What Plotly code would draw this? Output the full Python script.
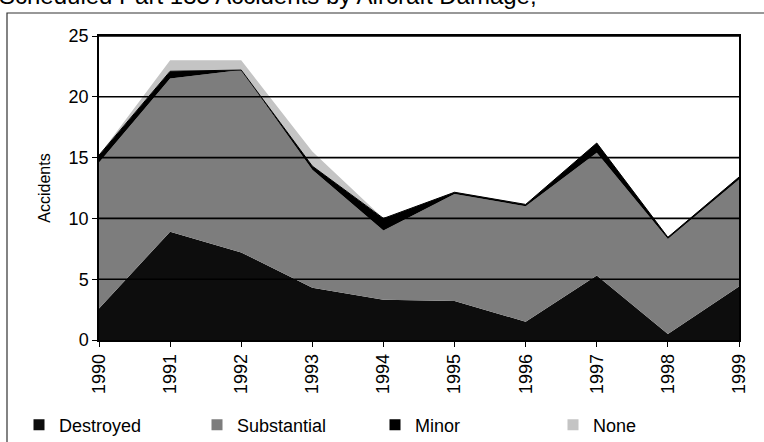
import plotly.graph_objects as go

years = [1990, 1991, 1992, 1993, 1994, 1995, 1996, 1997, 1998, 1999]
destroyed = [2.6, 8.9, 7.2, 4.3, 3.3, 3.2, 1.5, 5.3, 0.5, 4.4]
substantial = [12.0, 12.6, 15.0, 9.7, 5.7, 8.8, 9.5, 10.1, 7.8, 8.8]
minor = [0.6, 0.6, 0.0, 0.3, 1.0, 0.15, 0.15, 0.8, 0.15, 0.2]
none = [0.0, 0.9, 0.8, 1.2, 0.0, 0.0, 0.0, 0.0, 0.0, 0.0]
y_ticks = [0, 5, 10, 15, 20, 25]

series = [
    ("Destroyed", destroyed, "#0d0d0d"),
    ("Substantial", substantial, "#7d7d7d"),
    ("Minor", minor, "#000000"),
    ("None", none, "#c4c4c4"),
]

W, H = 764, 442
ML, MR, MT, MB = 99, 25, 36, 102
pw, ph = W - ML - MR, H - MT - MB

def px_x(p):
    return (p - ML) / pw

def px_y(p):
    return (H - MB - p) / ph

fig = go.Figure()
for name, vals, col in series:
    fig.add_trace(go.Scatter(
        x=years, y=vals, name=name, stackgroup="one", mode="lines",
        line=dict(width=1 if name == "Minor" else 0, color="#000000"),
        fillcolor=col, showlegend=False, hoverinfo="skip"))
for name, vals, col in series:
    fig.add_trace(go.Scatter(
        x=[None], y=[None], name=name, mode="markers",
        marker=dict(symbol="square", size=11, color=col,
                    line=dict(width=0)),
        showlegend=True))

shapes = []
for t in y_ticks[1:]:
    shapes.append(dict(type="line", xref="paper", yref="y", x0=0, x1=1,
                       y0=t, y1=t, layer="above",
                       line=dict(color="#000000", width=1.6)))
# outer chart frame
shapes.append(dict(type="rect", xref="paper", yref="paper",
                   x0=px_x(7), x1=px_x(800), y0=px_y(13), y1=px_y(480),
                   layer="below", line=dict(color="#333333", width=1.2)))
fig.update_layout(shapes=shapes)

fig.add_annotation(
    text="Scheduled Part 135 Accidents by Aircraft Damage,",
    xref="paper", yref="paper", x=px_x(-3), y=px_y(11),
    xanchor="left", yanchor="bottom", showarrow=False,
    font=dict(family="Arial, Liberation Sans, sans-serif", size=24, color="#000"))

font = dict(family="Arial, Liberation Sans, sans-serif", color="#000000")

fig.update_layout(
    width=W, height=H,
    margin=dict(l=ML, r=MR, t=MT, b=MB, autoexpand=False),
    paper_bgcolor="#ffffff", plot_bgcolor="#ffffff",
    font=font,
    xaxis=dict(range=[1990, 1999], tickvals=years, ticktext=[str(y) for y in years],
               tickangle=-90, ticks="outside", ticklen=5, tickwidth=1.2,
               tickcolor="#000", showgrid=False, zeroline=False,
               showline=True, linecolor="#000", linewidth=1.5, mirror=True,
               tickfont=dict(size=18), automargin=False),
    yaxis=dict(range=[0, 25], tickvals=y_ticks, ticks="outside", ticklen=5,
               tickwidth=1.2, tickcolor="#000", showgrid=False, zeroline=False,
               showline=True, linecolor="#000", linewidth=1.5, mirror=True,
               tickfont=dict(size=18), automargin=False,
               title=dict(text="Accidents", font=dict(size=16), standoff=14)),
    legend=dict(orientation="h", x=px_x(19), y=px_y(425), xanchor="left",
                yanchor="middle", font=dict(size=18), itemwidth=30,
                entrywidth=133, bgcolor="rgba(0,0,0,0)", traceorder="normal"),
    showlegend=True,
)

fig.write_html(
    "out.html",
    config={"displayModeBar": False},
    post_script="document.body.style.margin='0';document.body.style.overflow='hidden';")
